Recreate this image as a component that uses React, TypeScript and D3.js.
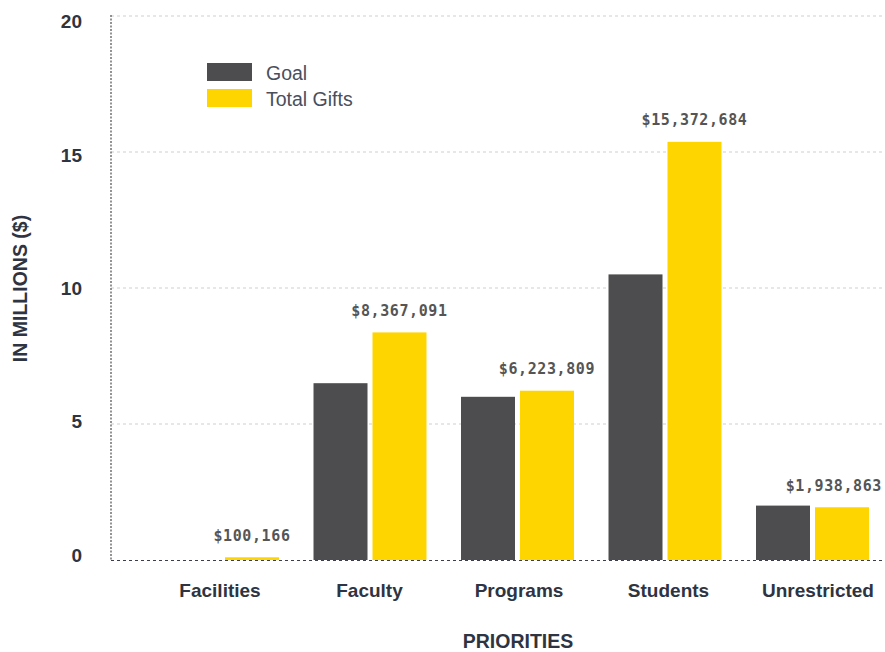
import React, { useEffect, useRef } from "react";
import * as d3 from "d3";

const categories = ["Facilities", "Faculty", "Programs", "Students", "Unrestricted"];
const seriesNames = ["Goal", "Total Gifts"];
const goalValues = [0, 6.5, 6, 10.5, 2];
const totalGifts = [100166, 8367091, 6223809, 15372684, 1938863];
const yTicks = [0, 5, 10, 15, 20];

const W = 885;
const H = 652;
const colors = ["#4d4d4f", "#ffd500"];

export default function App() {
  const ref = useRef<SVGSVGElement | null>(null);

  useEffect(() => {
    const svg = d3.select(ref.current);
    svg.selectAll("*").remove();

    const left = 111;
    const right = 885;
    const y = d3.scaleLinear().domain([0, 20]).range([560, 16]);
    const yLabel = d3.scaleLinear().domain([0, 20]).range([555, 21.5]);

    const x0 = d3
      .scaleBand<string>()
      .domain(categories)
      .range([148.75, 886.25])
      .paddingInner(0.234)
      .paddingOuter(0.117);
    const x1 = d3
      .scaleBand<string>()
      .domain(seriesNames)
      .range([0, x0.bandwidth()])
      .paddingInner(0.0847);
    const xLabel = d3.scalePoint<string>().domain(categories).range([220, 818]);

    const tickFont = "'Liberation Sans', Arial, Helvetica, sans-serif";
    const dark = "#2e3441";

    // gridlines
    svg
      .append("g")
      .selectAll("line")
      .data(yTicks.filter((t) => t > 0))
      .join("line")
      .attr("x1", left)
      .attr("x2", right)
      .attr("y1", (d) => y(d))
      .attr("y2", (d) => y(d))
      .attr("stroke", "#cfcfcf")
      .attr("stroke-dasharray", "3,3")
      .attr("stroke-width", 1);

    // left axis line
    svg
      .append("line")
      .attr("x1", left)
      .attr("x2", left)
      .attr("y1", y(20) - 1)
      .attr("y2", y(0))
      .attr("stroke", "#707070")
      .attr("stroke-width", 1.5)
      .attr("stroke-dasharray", "2,1.5");

    // y tick labels
    svg
      .append("g")
      .selectAll("text")
      .data(yTicks)
      .join("text")
      .attr("x", 82)
      .attr("y", (d) => yLabel(d) + 6.8)
      .attr("text-anchor", "end")
      .attr("font-family", tickFont)
      .attr("font-weight", "bold")
      .attr("font-size", 19)
      .attr("fill", dark)
      .text((d) => String(d));

    // bars
    const rows = categories.map((c, i) => ({
      cat: c,
      vals: [goalValues[i], totalGifts[i] / 1e6],
    }));

    const groups = svg
      .append("g")
      .selectAll("g")
      .data(rows)
      .join("g")
      .attr("transform", (d) => `translate(${x0(d.cat)},0)`);

    groups
      .selectAll("rect")
      .data((d) => d.vals.map((v, j) => ({ key: seriesNames[j], v, j })))
      .join("rect")
      .attr("x", (d) => x1(d.key)!)
      .attr("width", x1.bandwidth())
      .attr("y", (d) => y(d.v))
      .attr("height", (d) => y(0) - y(d.v))
      .attr("fill", (d) => colors[d.j]);

    // baseline
    svg
      .append("line")
      .attr("x1", left)
      .attr("x2", right)
      .attr("y1", y(0) + 0.5)
      .attr("y2", y(0) + 0.5)
      .attr("stroke", "#3a3f4b")
      .attr("stroke-dasharray", "3,3")
      .attr("stroke-width", 1);

    // value labels
    const fmt = d3.format(",");
    svg
      .append("g")
      .selectAll("text")
      .data(rows)
      .join("text")
      .attr("y", (d) => y(d.vals[1]) - 16.5)
      .attr("text-anchor", "middle")
      .attr("font-family", "'DejaVu Sans Mono', monospace")
      .attr("font-weight", "bold")
      .attr("font-size", 15)
      .attr("letter-spacing", 0.6)
      .attr("fill", "#555555")
      .text((d, i) => "$" + fmt(totalGifts[i]))
      .each(function (d) {
        const el = this as SVGTextElement;
        const w = el.getComputedTextLength();
        let cx = x0(d.cat)! + x1("Total Gifts")! + x1.bandwidth() / 2;
        if (cx + w / 2 > W - 3) cx = W - 3 - w / 2;
        d3.select(el).attr("x", cx);
      });

    // category labels
    svg
      .append("g")
      .selectAll("text")
      .data(categories)
      .join("text")
      .attr("x", (d) => xLabel(d)!)
      .attr("y", 597)
      .attr("text-anchor", "middle")
      .attr("font-family", tickFont)
      .attr("font-weight", "bold")
      .attr("font-size", 19)
      .attr("fill", dark)
      .text((d) => d);

    // axis titles
    svg
      .append("text")
      .attr("x", 518)
      .attr("y", 648)
      .attr("text-anchor", "middle")
      .attr("font-family", tickFont)
      .attr("font-weight", "bold")
      .attr("font-size", 19.5)
      .attr("fill", dark)
      .text("PRIORITIES");

    svg
      .append("text")
      .attr("transform", "translate(27,288.5) rotate(-90)")
      .attr("text-anchor", "middle")
      .attr("font-family", tickFont)
      .attr("font-weight", "bold")
      .attr("font-size", 19.5)
      .attr("fill", dark)
      .text("IN MILLIONS ($)");

    // legend
    const legend = svg
      .append("g")
      .selectAll("g")
      .data(seriesNames)
      .join("g")
      .attr("transform", (d, i) => `translate(207,${63 + i * 26})`);
    legend
      .append("rect")
      .attr("width", 45)
      .attr("height", 18)
      .attr("fill", (d, i) => colors[i]);
    legend
      .append("text")
      .attr("x", 59)
      .attr("y", 17)
      .attr("font-family", tickFont)
      .attr("font-size", 19.5)
      .attr("fill", "#4a4f5c")
      .text((d) => d);
  }, []);

  return (
    <svg
      ref={ref}
      width={W}
      height={H}
      style={{ position: "absolute", left: 0, top: 0, background: "#fff" }}
    />
  );
}
